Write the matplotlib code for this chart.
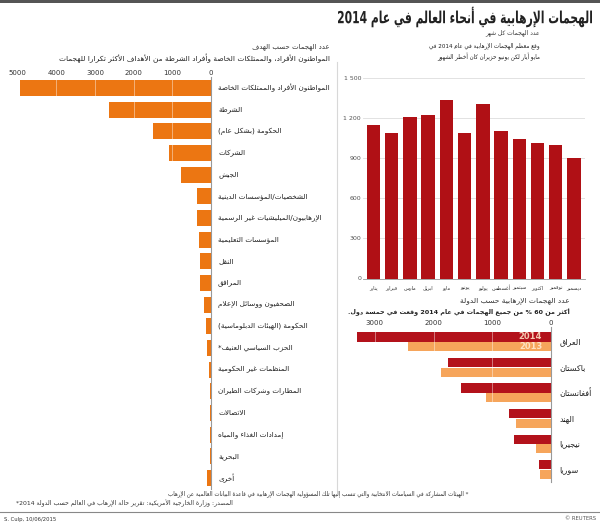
import re
import matplotlib
matplotlib.use('Agg')
import matplotlib.pyplot as plt
from matplotlib.lines import Line2D
from matplotlib.patches import Rectangle, PathPatch
from matplotlib.textpath import TextPath
from matplotlib.font_manager import FontProperties
from matplotlib.transforms import Affine2D

plt.rcParams['font.family'] = ['DejaVu Sans']

# ---- data ----
target_labels = [
    'المواطنون الأفراد والممتلكات الخاصة',
    'الشرطة',
    'الحكومة (بشكل عام)',
    'الشركات',
    'الجيش',
    'الشخصيات/المؤسسات الدينية',
    'الإرهابيون/الميليشيات غير الرسمية',
    'المؤسسات التعليمية',
    'النقل',
    'المرافق',
    'الصحفيون ووسائل الإعلام',
    'الحكومة (الهيئات الدبلوماسية)',
    'الحزب السياسي العنيف*',
    'المنظمات غير الحكومية',
    'المطارات وشركات الطيران',
    'الاتصالات',
    'إمدادات الغذاء والمياه',
    'البحرية',
    'أخرى',
]
target_values = [4950, 2650, 1510, 1080, 770, 370, 350, 320, 285, 275,
                 170, 120, 110, 50, 35, 30, 15, 15, 100]
target_ticks = [5000, 4000, 3000, 2000, 1000, 0]

months = ['يناير', 'فبراير', 'مارس', 'ابريل', 'مايو', 'يونيو',
          'يوليو', 'أغسطس', 'سبتمبر', 'اكتوبر', 'نوفمبر', 'ديسمبر']
month_values = [1145, 1088, 1207, 1219, 1334, 1084,
                1305, 1102, 1045, 1010, 1000, 897]
month_ticks = [0, 300, 600, 900, 1200, 1500]

countries = ['العراق', 'باكستان', 'أفغانستان', 'الهند', 'نيجيريا', 'سوريا']
attacks_2014 = [3300, 1755, 1526, 718, 627, 200]
attacks_2013 = [2430, 1868, 1100, 603, 262, 188]
country_ticks = [3000, 2000, 1000, 0]

# ---- minimal arabic shaping + rtl ordering ----
_base = {
    'ء': (0xFE80, 0), 'آ': (0xFE81, 1), 'أ': (0xFE83, 1), 'ؤ': (0xFE85, 1),
    'إ': (0xFE87, 1), 'ئ': (0xFE89, 2), 'ا': (0xFE8D, 1), 'ب': (0xFE8F, 2),
    'ة': (0xFE93, 1), 'ت': (0xFE95, 2), 'ث': (0xFE99, 2), 'ج': (0xFE9D, 2),
    'ح': (0xFEA1, 2), 'خ': (0xFEA5, 2), 'د': (0xFEA9, 1), 'ذ': (0xFEAB, 1),
    'ر': (0xFEAD, 1), 'ز': (0xFEAF, 1), 'س': (0xFEB1, 2), 'ش': (0xFEB5, 2),
    'ص': (0xFEB9, 2), 'ض': (0xFEBD, 2), 'ط': (0xFEC1, 2), 'ظ': (0xFEC5, 2),
    'ع': (0xFEC9, 2), 'غ': (0xFECD, 2), 'ف': (0xFED1, 2), 'ق': (0xFED5, 2),
    'ك': (0xFED9, 2), 'ل': (0xFEDD, 2), 'م': (0xFEE1, 2), 'ن': (0xFEE5, 2),
    'ه': (0xFEE9, 2), 'و': (0xFEED, 1), 'ى': (0xFEEF, 1), 'ي': (0xFEF1, 2),
}
_lamalef = {'آ': 0xFEF5, 'أ': 0xFEF7, 'إ': 0xFEF9, 'ا': 0xFEFB}
_mirror = {'(': ')', ')': '('}


def _dual(c):
    return c in _base and _base[c][1] == 2


def shape(text):
    out = []
    i = 0
    n = len(text)
    while i < n:
        c = text[i]
        if c not in _base:
            out.append(c)
            i += 1
            continue
        prev = text[i - 1] if i > 0 else ''
        con_prev = _dual(prev)
        nxt = text[i + 1] if i + 1 < n else ''
        if c == 'ل' and nxt in _lamalef:
            out.append(chr(_lamalef[nxt] + (1 if con_prev else 0)))
            i += 2
            continue
        code, kind = _base[c]
        con_next = kind == 2 and nxt in _base
        if kind == 0:
            out.append(chr(code))
        elif con_prev and con_next:
            out.append(chr(code + 3))
        elif con_prev:
            out.append(chr(code + 1))
        elif con_next:
            out.append(chr(code + 2))
        else:
            out.append(chr(code))
        i += 1
    return ''.join(out)


def ar(text):
    s = shape(text)
    parts = re.split(r'([0-9A-Za-z]+(?:[.,/][0-9A-Za-z]+)*)', s)
    vis = []
    for k, p in enumerate(parts):
        if k % 2 == 1:
            vis.append(p)
        else:
            vis.append(''.join(_mirror.get(ch, ch) for ch in reversed(p)))
    return ''.join(reversed(vis))


W, H = 600, 531
fig = plt.figure(figsize=(W / 100, H / 100), dpi=100)


def px_axes(l, t, r, b):
    return fig.add_axes([l / W, 1 - b / H, (r - l) / W, (b - t) / H])


def ftext(x, y, s, **kw):
    kw.setdefault('va', 'center')
    fig.text(x / W, 1 - y / H, s, **kw)


def fitted_text(x0, x1, y, s, size, color, weight='normal'):
    # text squeezed horizontally to span x0..x1 (pixels)
    tp = TextPath((0, 0), s, size=size,
                  prop=FontProperties(family='DejaVu Sans', weight=weight))
    ext = tp.get_extents()
    k = 100 / 72
    sx = (x1 - x0) / (ext.width * k)
    tr = (Affine2D().translate(-ext.x0, -(ext.y0 + ext.y1) / 2)
          .scale(sx * k, k).translate(x0, H - y))
    fig.add_artist(PathPatch(tp, transform=tr, color=color, lw=0))


# frame lines
fig.add_artist(Rectangle((0, 1 - 3 / H), 1, 3 / H, transform=fig.transFigure,
                         color='#555555', lw=0))
fig.add_artist(Line2D([337 / W, 337 / W], [1 - 62 / H, 1 - 490 / H],
                      transform=fig.transFigure, color='#d8d8d8', lw=0.8))
fig.add_artist(Line2D([0, 1], [1 - 512 / H, 1 - 512 / H],
                      transform=fig.transFigure, color='#888888', lw=0.8))

# title and headers
fitted_text(338, 592, 17, ar('الهجمات الإرهابية في أنحاء العالم في عام 2014'),
            12, '#222222', weight='bold')
ftext(540, 33, ar('عدد الهجمات كل شهر'), ha='right', fontsize=4.3, color='#333333')
ftext(540, 46, ar('وقع معظم الهجمات الإرهابية في عام 2014 في'),
      ha='right', fontsize=4.1, color='#222222')
ftext(540, 57, ar('مايو أيار لكن يونيو حزيران كان أخطر الشهور'),
      ha='right', fontsize=4.1, color='#222222')
ftext(330, 47, ar('عدد الهجمات حسب الهدف'), ha='right', fontsize=5, color='#333333')
ftext(330, 58, ar('المواطنون الأفراد، والممتلكات الخاصة وأفراد الشرطة من الأهداف الأكثر تكرارا للهجمات'),
      ha='right', fontsize=5.3, color='#222222')

# ---- left: attacks by target ----
ax1 = px_axes(10, 77, 211, 489)
ypos = list(range(len(target_values)))
ax1.barh(ypos, target_values, height=0.74, color='#ec7612', zorder=2)
for v in target_ticks[:-1]:
    ax1.axvline(v, color='white', lw=0.6, alpha=0.5, zorder=3)
ax1.set_xlim(5200, 0)
ax1.set_ylim(18.51, -0.51)
ax1.xaxis.tick_top()
ax1.set_xticks(target_ticks)
ax1.set_xticklabels([str(t) for t in target_ticks])
ax1.tick_params(axis='x', length=0, pad=1, labelsize=5, labelcolor='#333333')
ax1.set_yticks([])
for side in ['left', 'top', 'bottom']:
    ax1.spines[side].set_visible(False)
ax1.spines['right'].set_color('#999999')
ax1.spines['right'].set_linewidth(0.8)
for i, lab in enumerate(target_labels):
    ax1.text(1.035, i, ar(lab), transform=ax1.get_yaxis_transform(),
             ha='left', va='center', fontsize=5.2, color='#222222')

# ---- top right: attacks per month ----
ax2 = px_axes(362.5, 77.7, 585, 278.5)
xpos = list(range(len(month_values)))
ax2.bar(xpos, month_values, width=0.73, color='#b01015', zorder=2)
ax2.set_xlim(-0.6, 11.6)
ax2.set_ylim(0, 1500)
ax2.set_yticks(month_ticks)
ax2.set_yticklabels([f'{t:,}'.replace(',', ' ') for t in month_ticks])
ax2.tick_params(axis='y', length=0, pad=1, labelsize=4.5, labelcolor='#555555')
ax2.grid(axis='y', color='#dddddd', lw=0.6, zorder=0)
ax2.set_xticks(xpos)
ax2.set_xticklabels([ar(m) for m in months], va='center')
ax2.tick_params(axis='x', length=0, pad=7, labelsize=3.6, labelcolor='#333333')
for side in ['left', 'top', 'right']:
    ax2.spines[side].set_visible(False)
ax2.spines['bottom'].set_color('#999999')
ax2.spines['bottom'].set_linewidth(0.6)

# ---- bottom right: attacks by country ----
ftext(570, 301, ar('عدد الهجمات الإرهابية حسب الدولة'), ha='right',
      fontsize=5.4, color='#333333')
ftext(570, 312, ar('أكثر من 60 % من جميع الهجمات في عام 2014 وقعت في خمسة دول.'),
      ha='right', fontsize=4.6, fontweight='bold', color='#222222')
ax3 = px_axes(345.5, 327, 551, 482)
g = list(range(len(countries)))
ax3.barh([k - 0.19 for k in g], attacks_2014, height=0.36, color='#b3121b', zorder=2)
ax3.barh([k + 0.19 for k in g], attacks_2013, height=0.36, color='#f6a55b', zorder=2)
for v in country_ticks[:-1]:
    ax3.axvline(v, color='white', lw=0.6, alpha=0.5, zorder=3)
ax3.set_xlim(3500, 0)
ax3.set_ylim(5.49, -0.58)
ax3.xaxis.tick_top()
ax3.set_xticks(country_ticks)
ax3.set_xticklabels([str(t) for t in country_ticks])
ax3.tick_params(axis='x', length=0, pad=1, labelsize=5, labelcolor='#333333')
ax3.set_yticks([])
for side in ['left', 'top', 'bottom']:
    ax3.spines[side].set_visible(False)
ax3.spines['right'].set_color('#999999')
ax3.spines['right'].set_linewidth(0.8)
for k, c in enumerate(countries):
    ax3.text(1.04, k, ar(c), transform=ax3.get_yaxis_transform(),
             ha='left', va='center', fontsize=5.8, color='#222222')
ax3.text(150, -0.19, '2014', ha='right', va='center', fontsize=6,
         fontweight='bold', color='#f3c9b0', zorder=4)
ax3.text(150, 0.19, '2013', ha='right', va='center', fontsize=6,
         fontweight='bold', color='#fde2c4', zorder=4)

# ---- footer ----
ftext(468, 494, ar('* الهيئات المشاركة في السياسات الانتخابية والتي تنسب إليها تلك المسؤولية الهجمات الإرهابية في قاعدة البيانات العالمية عن الإرهاب'),
      ha='right', fontsize=4.0, color='#333333')
ftext(233, 503, ar('المصدر: وزارة الخارجية الأمريكية: تقرير حالة الإرهاب في العالم حسب الدولة 2014*'),
      ha='right', fontsize=4.4, color='#333333')
ftext(4, 519, 'S. Culp, 10/06/2015', ha='left', fontsize=3.8, color='#333333')
ftext(596, 519, '© REUTERS', ha='right', fontsize=3.8, color='#555555')

fig.savefig('out.png', dpi=100, facecolor='white')
